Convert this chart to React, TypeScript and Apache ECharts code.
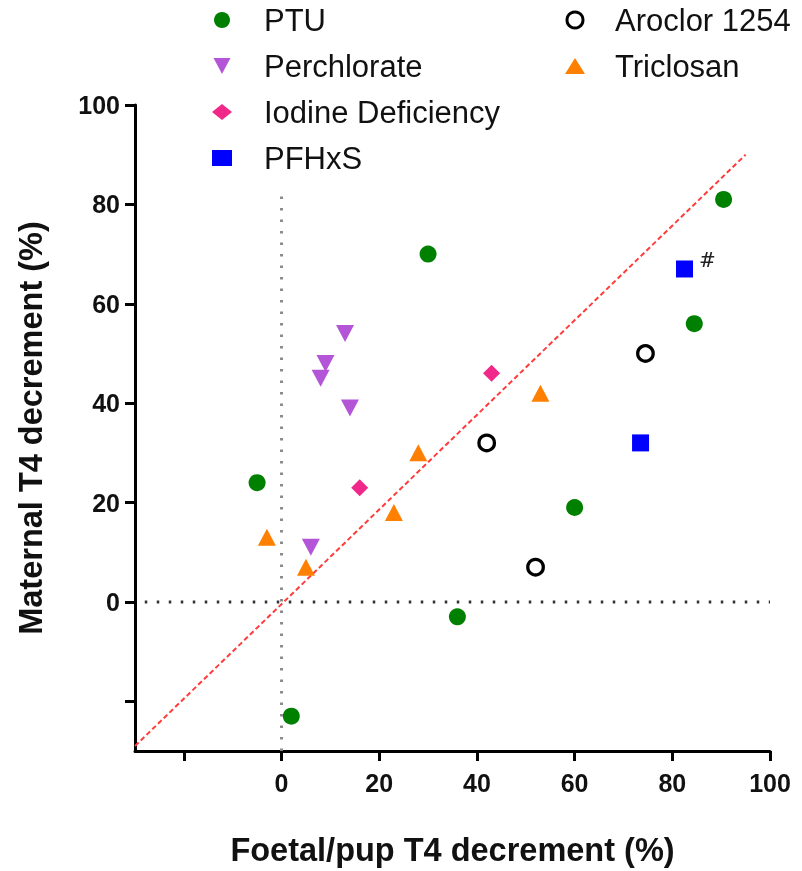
import React, { useEffect, useRef } from "react";
import * as echarts from "echarts";

const ptu: number[][] = [[-5, 24], [30, 70], [90.5, 81], [84.5, 56], [60, 19], [36, -3], [2, -23]];
const perchlorate: number[][] = [[13, 54], [9, 48], [8, 45], [14, 39], [6, 11]];
const iodine: number[][] = [[16, 23], [43, 46]];
const pfhxs: number[][] = [[82.5, 67], [73.5, 32]];
const aroclor: number[][] = [[74.5, 50], [42, 32], [52, 7]];
const triclosan: number[][] = [[-3, 13], [5, 7], [23, 18], [28, 30], [53, 42]];

const tickValues = [-20, 0, 20, 40, 60, 80, 100];
const labelValues = [0, 20, 40, 60, 80, 100];

const diagLine: number[][] = [[-30, -29], [95, 90]];
const zeroH: number[][] = [[-28, 0], [100, 0]];
const zeroV: number[][] = [[0, -30], [0, 83]];

const FONT = "Liberation Sans, Arial, sans-serif";
const downTri = "path://M0,0 L18,0 L9,17 Z";

export default function App() {
  const ref = useRef<HTMLDivElement>(null);
  useEffect(() => {
    if (!ref.current) return;
    const chart = echarts.init(ref.current, null, { renderer: "svg" });
    const axisCommon = {
      type: "value" as const,
      min: -30,
      max: 100,
      splitLine: { show: false },
      axisLine: { show: true, onZero: false, lineStyle: { color: "#000", width: 3 } },
      axisTick: { show: true, length: 10, inside: false, lineStyle: { color: "#000", width: 3 }, customValues: tickValues },
      axisLabel: {
        customValues: labelValues,
        fontFamily: FONT,
        fontWeight: "bold" as const,
        fontSize: 25,
        color: "#111",
      },
      nameLocation: "middle" as const,
      nameTextStyle: { fontFamily: FONT, fontWeight: "bold" as const, fontSize: 32.5, color: "#111" },
    };
    const legendBase = {
      orient: "vertical" as const,
      top: 4,
      padding: 0,
      itemWidth: 20,
      itemHeight: 16,
      itemGap: 14,
      selectedMode: false,
    };
    const legendText = (pad: number) => ({ fontFamily: FONT, fontSize: 31, color: "#111", lineHeight: 32, padding: [0, 0, 0, pad] });
    chart.setOption({
      animation: false,
      grid: { left: 135, right: 32, top: 105, bottom: 118 },
      xAxis: { ...axisCommon, name: "Foetal/pup T4 decrement (%)", nameGap: 82, axisLabel: { ...axisCommon.axisLabel, margin: 19 } },
      yAxis: { ...axisCommon, name: "Maternal T4 decrement (%)", nameGap: 88, axisLabel: { ...axisCommon.axisLabel, margin: 15 } },
      legend: [
        { ...legendBase, data: ["PTU", "Perchlorate", "Iodine Deficiency", "PFHxS"], left: 212, textStyle: legendText(27) },
        {
          ...legendBase,
          data: [
            { name: "Aroclor 1254", itemStyle: { borderWidth: 3, borderColor: "#000", color: "#fff" } },
            { name: "Triclosan" },
          ],
          left: 565,
          textStyle: legendText(25),
        },
      ],
      series: [
        {
          type: "line", data: diagLine, symbol: "none", silent: true, z: 1,
          lineStyle: { color: "#ff3b3b", width: 2, type: [5, 3] },
        },
        {
          type: "line", data: zeroH, symbol: "none", silent: true, z: 1,
          lineStyle: { color: "#333", width: 3, type: [2.5, 9.5] },
        },
        {
          type: "line", data: zeroV, symbol: "none", silent: true, z: 1,
          lineStyle: { color: "#8a8a8a", width: 3, type: [2.5, 9] },
        },
        { name: "PTU", type: "scatter", data: ptu, symbol: "circle", symbolSize: 17, itemStyle: { color: "#008000", opacity: 1 }, z: 3 },
        { name: "Perchlorate", type: "scatter", data: perchlorate, symbol: downTri, symbolSize: [18, 17], itemStyle: { color: "#b455d8", opacity: 1 }, z: 3 },
        { name: "Iodine Deficiency", type: "scatter", data: iodine, symbol: "diamond", symbolSize: 17, itemStyle: { color: "#f0288a", opacity: 1 }, z: 3 },
        {
          name: "PFHxS", type: "scatter", symbol: "rect", symbolSize: 17, itemStyle: { color: "#0000ff", opacity: 1 }, z: 3,
          data: pfhxs.map((p, i) =>
            i === 0
              ? { value: p, label: { show: true, formatter: "#", position: "right", distance: 6, offset: [0, -9], fontSize: 20, color: "#222", fontFamily: "DejaVu Serif, serif" } }
              : { value: p }
          ),
        },
        {
          name: "Aroclor 1254", type: "scatter", data: aroclor, symbol: "circle", symbolSize: 15.5,
          itemStyle: { color: "#fff", borderColor: "#000", borderWidth: 3.3, opacity: 1 }, z: 3,
        },
        { name: "Triclosan", type: "scatter", data: triclosan, symbol: "triangle", symbolSize: [18, 17], itemStyle: { color: "#ff8000", opacity: 1 }, z: 3 },
      ],
    });
    return () => chart.dispose();
  }, []);
  return <div ref={ref} style={{ position: "fixed", left: 0, top: 0, width: 802, height: 871 }} />;
}
